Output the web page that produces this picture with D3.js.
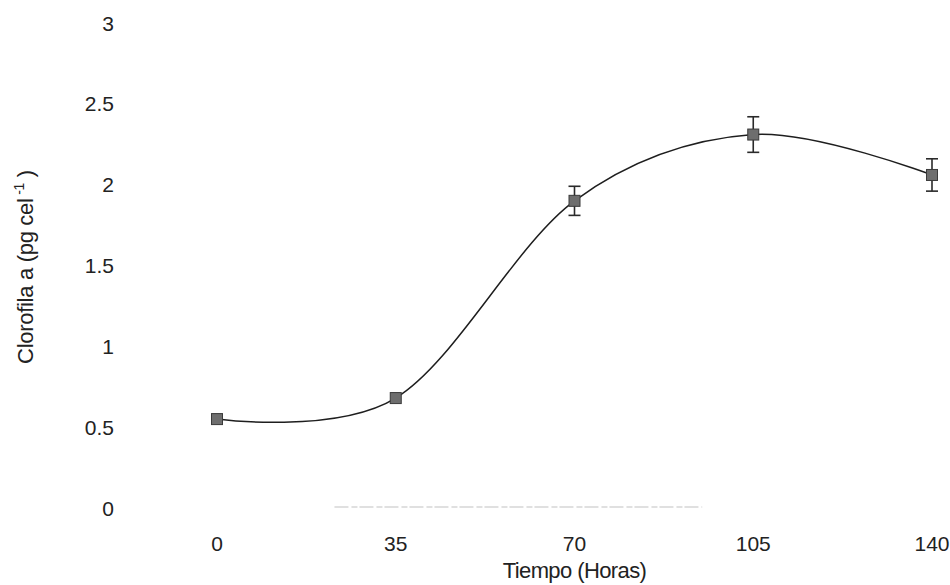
<!DOCTYPE html>
<html>
<head>
<meta charset="utf-8">
<script src="https://cdn.jsdelivr.net/npm/d3@7"></script>
<style>
  body { margin: 0; background: #fff; }
  text { font-family: "Liberation Sans", Arial, sans-serif; fill: #222; }
</style>
</head>
<body>
<script>
var hours = [0, 35, 70, 105, 140];
var chl = [0.55, 0.68, 1.9, 2.31, 2.06];
var err = [0, 0, 0.09, 0.11, 0.10];
var yTicks = [0, 0.5, 1, 1.5, 2, 2.5, 3];

var width = 950, height = 585;

var x = d3.scaleLinear()
          .domain([0, 140])
          .range([217, 932]);

var y = d3.scaleLinear()
          .domain([0, 3])
          .range([508, 23]);

var svg = d3.select('body')
            .append('svg')
            .attr('width', width)
            .attr('height', height);

var data = hours.map(function(h, i) { return {h: h, v: chl[i], e: err[i]}; });

// faint remains of the x axis line in the scan
svg.append('line')
   .attr('x1', x(23)).attr('x2', x(95))
   .attr('y1', y(0) - 1).attr('y2', y(0) - 1)
   .attr('stroke', '#999')
   .attr('stroke-width', 1)
   .attr('stroke-dasharray', '14,3,6,2')
   .attr('opacity', 0.6);

// y tick labels
svg.selectAll('.ylab')
   .data(yTicks)
   .enter().append('text')
   .attr('class', 'ylab')
   .attr('x', 114)
   .attr('y', function(d) { return y(d); })
   .attr('dy', '0.36em')
   .attr('text-anchor', 'end')
   .style('font-size', '21px')
   .text(function(d) { return d; });

// x tick labels
svg.selectAll('.xlab')
   .data(hours)
   .enter().append('text')
   .attr('class', 'xlab')
   .attr('x', function(d) { return x(d); })
   .attr('y', 551)
   .attr('text-anchor', 'middle')
   .style('font-size', '21px')
   .text(function(d) { return d; });

// axis titles
svg.append('text')
   .attr('x', x(70))
   .attr('y', 578)
   .attr('text-anchor', 'middle')
   .style('font-size', '22px')
   .style('letter-spacing', '-0.6px')
   .text('Tiempo (Horas)');

var yt = svg.append('text')
   .attr('transform', 'translate(33,267) rotate(-90)')
   .attr('text-anchor', 'middle')
   .style('font-size', '22px')
   .style('letter-spacing', '-0.3px');
yt.append('tspan').text('Clorofila a (pg cel');
yt.append('tspan').attr('dy', '-9').style('font-size', '14px').text(' -1');
yt.append('tspan').attr('dy', '9').text(' )');

// smoothed line
var line = d3.line()
             .x(function(d) { return x(d.h); })
             .y(function(d) { return y(d.v); })
             .curve(d3.curveCatmullRom.alpha(0));

svg.append('path')
   .datum(data)
   .attr('d', line)
   .attr('fill', 'none')
   .attr('stroke', '#1e1e1e')
   .attr('stroke-width', 1.5);

// error bars
var eb = svg.selectAll('.err')
            .data(data.filter(function(d) { return d.e > 0; }))
            .enter().append('g')
            .attr('class', 'err')
            .attr('stroke', '#2a2a2a')
            .attr('stroke-width', 1.6);

eb.append('line')
  .attr('x1', function(d) { return x(d.h); })
  .attr('x2', function(d) { return x(d.h); })
  .attr('y1', function(d) { return y(d.v + d.e); })
  .attr('y2', function(d) { return y(d.v - d.e); });

eb.append('line')
  .attr('x1', function(d) { return x(d.h) - 6; })
  .attr('x2', function(d) { return x(d.h) + 6; })
  .attr('y1', function(d) { return y(d.v + d.e); })
  .attr('y2', function(d) { return y(d.v + d.e); });

eb.append('line')
  .attr('x1', function(d) { return x(d.h) - 6; })
  .attr('x2', function(d) { return x(d.h) + 6; })
  .attr('y1', function(d) { return y(d.v - d.e); })
  .attr('y2', function(d) { return y(d.v - d.e); });

// square markers
svg.selectAll('.pt')
   .data(data)
   .enter().append('rect')
   .attr('class', 'pt')
   .attr('x', function(d) { return x(d.h) - 5.5; })
   .attr('y', function(d) { return y(d.v) - 5.5; })
   .attr('width', 11)
   .attr('height', 11)
   .attr('fill', '#6e6e6e')
   .attr('stroke', '#3a3a3a')
   .attr('stroke-width', 1);
</script>
</body>
</html>
